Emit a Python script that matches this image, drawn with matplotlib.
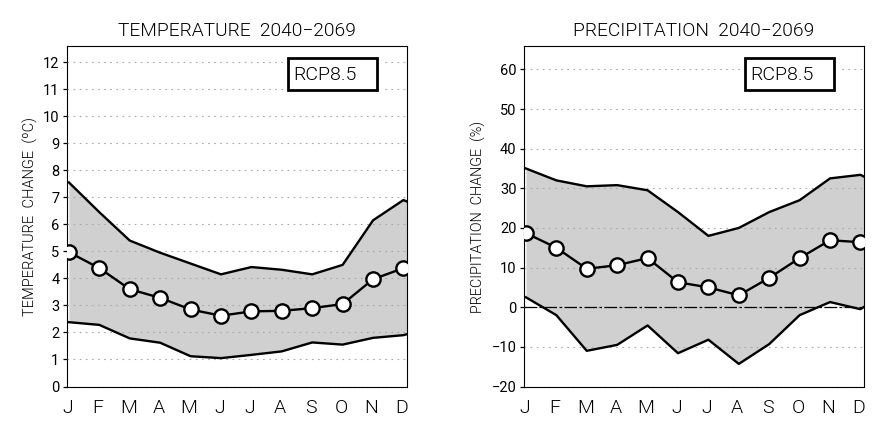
"""Monthly temperature and precipitation change panels, RCP8.5, 2040-2069."""
import matplotlib

matplotlib.use("Agg")
import matplotlib.pyplot as plt
import numpy as np
from matplotlib.patches import Rectangle
from matplotlib.transforms import ScaledTranslation

plt.rcParams["font.family"] = ["Roboto", "DejaVu Sans"]

months = ["J", "F", "M", "A", "M", "J", "J", "A", "S", "O", "N", "D"]

temp_upper = [7.55, 6.45, 5.4, 4.95, 4.55, 4.15, 4.42, 4.32, 4.15, 4.5, 6.15, 6.9]
temp_lower = [2.38, 2.28, 1.78, 1.62, 1.12, 1.05, 1.17, 1.3, 1.63, 1.55, 1.8, 1.9]
temp_mean = [4.97, 4.38, 3.6, 3.28, 2.85, 2.62, 2.78, 2.8, 2.9, 3.05, 3.97, 4.38]
temp_ticks = list(range(0, 13))
# curves run on a little past December, up to the frame
temp_edge = (6.85, 1.93)

prec_upper = [35, 32, 30.5, 30.8, 29.5, 24, 18, 20, 24, 27, 32.5, 33.4]
prec_lower = [2.5, -2, -11, -9.5, -4.6, -11.6, -8.2, -14.3, -9.3, -2, 1.3, -0.5]
prec_mean = [18.7, 15, 9.7, 10.6, 12.4, 6.3, 5, 3, 7.4, 12.4, 16.9, 16.4]
prec_ticks = list(range(-20, 61, 10))
prec_edge = (33.0, 0.0)

W, H = 896, 429
X_MAX = 11.1
X_MIN = -0.08


def draw_panel(left_px, title, ylabel, upper, lower, mean, edge, ticks, ylim, label_x, label_size):
    ax = plt.axes([left_px / W, 1 - 386.5 / H, 340 / W, 340.5 / H])
    x = np.arange(12)
    x_ext = np.append(x, X_MAX)
    up = np.append(upper, edge[0])
    low = np.append(lower, edge[1])

    ax.fill_between(x_ext, low, up, color="#d0d0d0", lw=0, zorder=1)
    ax.set_yticks(ticks)
    ax.set_yticklabels([str(t).replace("-", "\u2212") for t in ticks], fontsize=10.5)
    ax.grid(axis="y", color="#a8a8a8", lw=0.8, ls=(0, (1.5, 4)), zorder=2)
    ax.set_axisbelow(False)
    for gl in ax.get_ygridlines():
        gl.set_zorder(2)

    ax.plot(x_ext, up, color="black", lw=1.7, zorder=3)
    ax.plot(x_ext, low, color="black", lw=1.7, zorder=3)
    ax.plot(x, mean, color="black", lw=1.7, marker="o", ms=10.3, mfc="white",
            mec="black", mew=1.7, zorder=5)

    ax.set_xlim(X_MIN, X_MAX)
    ax.set_ylim(*ylim)
    ax.set_xticks(x)
    ax.set_xticklabels(months, fontsize=14, fontweight=300)
    ax.tick_params(axis="x", length=0, pad=9)
    ax.tick_params(axis="y", length=3, width=0.9, pad=2)
    ax.spines["bottom"].set_linestyle((0, (3, 0.6)))
    shift = ScaledTranslation(-1.5 / 100, 0, fig.dpi_scale_trans)
    for lab in ax.get_xticklabels():
        lab.set_transform(lab.get_transform() + shift)

    ax.set_title(title, fontsize=13.8, pad=7, fontweight=300)
    fig.text(label_x / W, 1 - 217 / H, ylabel, rotation=90, ha="center", va="center",
             fontsize=label_size, fontweight=300)

    # white margin breaks the grid on either side of the RCP box
    ax.add_patch(Rectangle((0.640, 0.871), 0.285, 0.094, transform=ax.transAxes,
                           fc="white", ec="none", zorder=6))
    ax.add_patch(Rectangle((0.650, 0.871), 0.262, 0.094, transform=ax.transAxes,
                           fc="white", ec="black", lw=2, zorder=7))
    ax.text(0.668, 0.914, "RCP8.5", transform=ax.transAxes, ha="left", va="center",
            fontsize=14, fontweight=300, zorder=8)
    return ax


fig = plt.figure(figsize=(W / 100, H / 100), dpi=100)

draw_panel(66.5, "TEMPERATURE  2040\u22122069", "TEMPERATURE  CHANGE  (\u00baC)",
           temp_upper, temp_lower, temp_mean, temp_edge, temp_ticks, (0, 12.6), 30, 10.5)
ax2 = draw_panel(523.5, "PRECIPITATION  2040\u22122069", "PRECIPITATION  CHANGE  (%)",
                 prec_upper, prec_lower, prec_mean, prec_edge, prec_ticks, (-20, 65.9), 478, 10.4)
ax2.axhline(0, color="black", lw=0.9, ls=(0, (10, 2, 2, 2)), zorder=4)

fig.savefig("out.png", dpi=100)
plt.close(fig)
